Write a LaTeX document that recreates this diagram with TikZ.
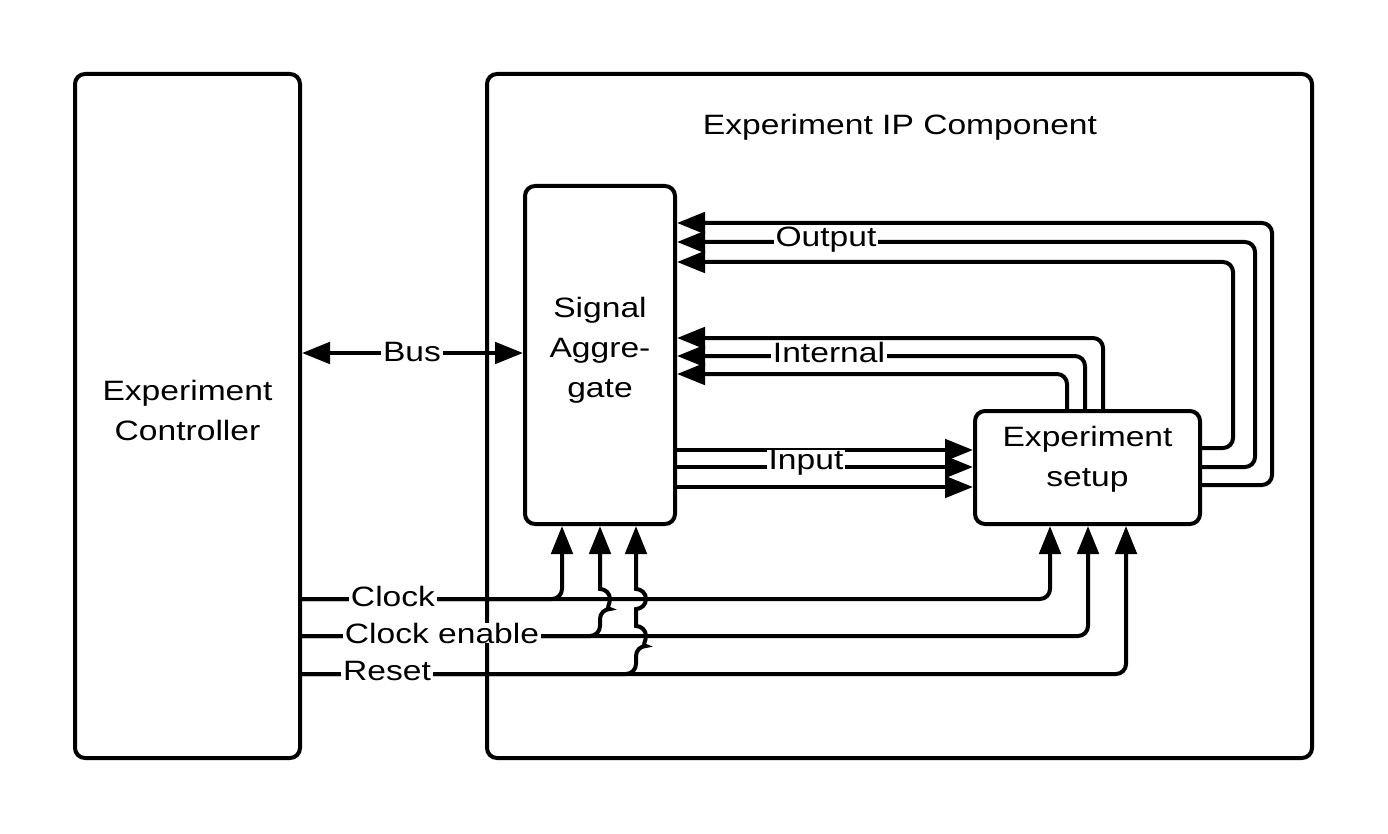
\documentclass[tikz,border=0pt]{standalone}
\usepackage{fontspec}
\setmainfont{Liberation Sans}[FakeStretch=1.2]
\usetikzlibrary{arrows.meta,calc}
\begin{document}
\begin{tikzpicture}[x=0.75pt,y=-0.75pt,
  box/.style={draw,line width=3pt,rounded corners=7.5pt,inner sep=0pt,txt},
  wire/.style={line width=3pt,rounded corners=7.5pt},
  tip/.style={-{Triangle[length=21pt,width=16pt]}},
  txt/.style={font=\fontsize{21}{30}\selectfont,align=center},
  lbl/.style={txt,fill=white,inner xsep=1.5pt,inner ysep=0pt}]
\useasboundingbox (0,0) rectangle (1388,834);
% boxes
\node[box,minimum width=168.75pt,minimum height=513pt] (ctrl) at (187.5,416) {};
\node[txt] (ctrltext) at (187.5,410) {Experiment\\Controller};
\node[box,minimum width=618.75pt,minimum height=513pt] (ip) at (899.5,416) {};
\node[txt] (title) at (900,127) {Experiment IP Component};
\node[box,minimum width=112.5pt,minimum height=253.5pt] (sa) at (600,355) {};
\node[txt] (satext) at (600,350) {Signal\\Aggre-\\gate};
\node[box,minimum width=168.75pt,minimum height=84.75pt] (es) at (1087.5,467.5) {};
\node[txt] (estext) at (1087.5,459) {Experiment\\setup};
% bus
\draw[wire,{Triangle[length=21pt,width=16pt]}-{Triangle[length=21pt,width=16pt]}] (ctrl.east |- 0,353) -- (sa.west |- 0,353);
\node[lbl] (bus) at (412,352) {Bus};
% output
\draw[wire,tip] (es.east |- 0,448) -| (1233,262) -- (sa.east |- 0,262);
\draw[wire,tip] (es.east |- 0,467) -| (1255,242) -- (sa.east |- 0,242);
\draw[wire,tip] (es.east |- 0,485) -| (1272,223) -- (sa.east |- 0,223);
\node[lbl] (out) at (826,240) {Output};
% internal
\draw[wire,tip] (es.north -| 1067,0) |- (sa.east |- 0,374);
\draw[wire,tip] (es.north -| 1085,0) |- (sa.east |- 0,356);
\draw[wire,tip] (es.north -| 1103,0) |- (sa.east |- 0,338);
\node[lbl] (int) at (829,352) {Internal};
% input
\draw[wire,tip] (sa.east |- 0,450) -- (es.west |- 0,450);
\draw[wire,tip] (sa.east |- 0,467) -- (es.west |- 0,467);
\draw[wire,tip] (sa.east |- 0,487) -- (es.west |- 0,487);
\node[lbl] (inp) at (806,463) {Input};
% clock
\draw[wire,tip] (ctrl.east |- 0,599) -| (es.south -| 1050,0);
\draw[wire,tip] (ctrl.east |- 0,599) -| (sa.south -| 562,0);
% clock enable
\draw[wire,tip] (ctrl.east |- 0,636) -| (es.south -| 1088,0);
\draw[wire,tip] (ctrl.east |- 0,636) -- (600,636) -- (600,609) [sharp corners] arc[start angle=-90,end angle=90,radius=7.5pt] -- (sa.south -| 600,0);
% reset
\draw[wire,tip] (ctrl.east |- 0,674) -| (es.south -| 1126,0);
\draw[wire,tip] (ctrl.east |- 0,674) -- (636,674) -- (636,646) [sharp corners] arc[start angle=-90,end angle=90,radius=7.5pt] -- (636,609) arc[start angle=-90,end angle=90,radius=7.5pt] -- (sa.south -| 636,0);
% labels
\node[lbl] (clk) at (393,596) {Clock};
\node[lbl] (clken) at (442,633) {Clock enable};
\node[lbl] (rst) at (387,671) {Reset};
\end{tikzpicture}
\end{document}
